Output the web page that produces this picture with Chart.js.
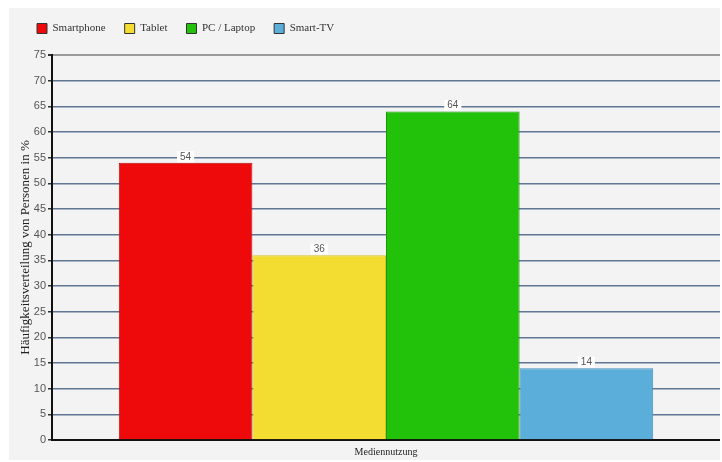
<!DOCTYPE html>
<html>
<head>
<meta charset="utf-8">
<script src="https://cdn.jsdelivr.net/npm/chart.js@4"></script>
<style>
  html, body { margin: 0; padding: 0; background: #fff; }
  #wrap { position: absolute; left: 9px; top: 8px; width: 711px; height: 452px; background: #f3f3f3; }
</style>
</head>
<body>
<div id="wrap"><canvas id="chart" width="711" height="452"></canvas></div>
<script>
const categories = ['Mediennutzung']
const seriesNames = ['Smartphone', 'Tablet', 'PC / Laptop', 'Smart-TV']
const seriesValues = [54, 36, 64, 14]
const seriesColors = ['#ee0a0a', '#f2dd30', '#22c10a', '#5aaed9']
const seriesBorders = ['#b01010', '#d8c228', '#1a9a08', '#4a8fb8']
const yTicks = { min: 0, max: 75, step: 5 }

const canvas = document.getElementById('chart')

// fix the legend height and move it a bit
const legendLayout = {
  id: 'legendLayout',
  beforeInit(chart) {
    const fit = chart.legend.fit
    chart.legend.fit = function () {
      fit.bind(chart.legend)()
      this.height = 47
    }
  },
  afterLayout(chart) {
    chart.legend.left += 9
    chart.legend.top -= 4
  },
}

// value labels with white box above each bar
const valueLabels = {
  id: 'valueLabels',
  afterDatasetsDraw(chart) {
    const ctx = chart.ctx
    ctx.save()
    ctx.font = '10px "Liberation Sans", sans-serif'
    ctx.textAlign = 'center'
    ctx.textBaseline = 'middle'
    chart.data.datasets.forEach((ds, i) => {
      chart.getDatasetMeta(i).data.forEach((bar, j) => {
        const text = String(ds.data[j])
        const w = ctx.measureText(text).width + 6
        const y = bar.y - 6
        ctx.fillStyle = '#ffffff'
        ctx.fillRect(bar.x - w / 2, y - 5.5, w, 11)
        ctx.fillStyle = '#555'
        ctx.fillText(text, bar.x, y)
      })
    })
    ctx.restore()
  },
}

new Chart(canvas, {
  type: 'bar',
  data: {
    labels: categories,
    datasets: seriesNames.map((name, i) => ({
      label: name,
      data: [seriesValues[i]],
      backgroundColor: seriesColors[i],
      borderColor: seriesBorders[i],
      borderWidth: 1,
      categoryPercentage: 0.8,
      barPercentage: 1,
    })),
  },
  plugins: [legendLayout, valueLabels],
  options: {
    responsive: false,
    animation: false,
    layout: { padding: 0 },
    plugins: {
      tooltip: { enabled: false },
      legend: {
        position: 'top',
        align: 'start',
        labels: {
          boxWidth: 10,
          boxHeight: 10,
          padding: 19,
          color: '#333',
          font: { family: '"Liberation Serif", serif', size: 11 },
          generateLabels: (chart) =>
            Chart.defaults.plugins.legend.labels.generateLabels(chart).map((item) => ({
              ...item,
              strokeStyle: '#333',
              lineWidth: 1,
            })),
        },
      },
    },
    scales: {
      x: {
        afterFit: (scale) => { scale.height = 20 },
        ticks: { display: false },
        grid: { display: false },
        border: { display: true, color: '#111', width: 2 },
        title: {
          display: true,
          text: 'Mediennutzung',
          color: '#222',
          padding: { top: 0, bottom: 2 },
          font: { family: '"Liberation Serif", serif', size: 10 },
        },
      },
      y: {
        min: yTicks.min,
        max: yTicks.max,
        afterFit: (scale) => { scale.width = 43 },
        ticks: {
          stepSize: yTicks.step,
          padding: 2,
          color: '#555',
          font: { family: '"Liberation Sans", sans-serif', size: 11 },
        },
        grid: {
          color: (ctx) => (ctx.tick && ctx.tick.value === yTicks.max ? '#9a9a9a' : '#5f7794'),
          lineWidth: (ctx) => (ctx.tick && ctx.tick.value === yTicks.max ? 2 : 1.5),
          tickColor: '#333',
          tickLength: 4,
        },
        border: { display: true, color: '#111', width: 2 },
        title: {
          display: true,
          text: 'Häufigkeitsverteilung von Personen in %',
          color: '#222',
          padding: { top: 9, bottom: 0 },
          font: { family: '"Liberation Serif", serif', size: 13 },
        },
      },
    },
  },
})
</script>
</body>
</html>
